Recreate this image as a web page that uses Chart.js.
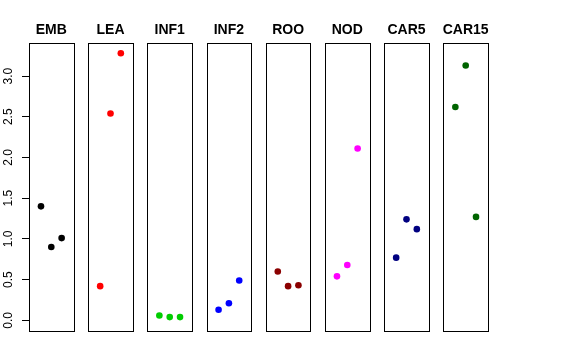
<!DOCTYPE html>
<html><head><meta charset="utf-8">
<script src="https://cdn.jsdelivr.net/npm/chart.js@4"></script>
<style>html,body{margin:0;padding:0;background:#fff}canvas{display:block}</style>
</head><body>
<div style="width:576px;height:360px"><canvas id="c" width="576" height="360"></canvas></div>
<script>
// ---- data ----
const panelNames = ['EMB','LEA','INF1','INF2','ROO','NOD','CAR5','CAR15'];
const panelColors = ['#000000','#FF0000','#00CD00','#0000FF','#8B0000','#FF00FF','#000080','#006400'];
const EMB   = [1.40, 0.90, 1.01];
const LEA   = [0.42, 2.54, 3.28];
const INF1  = [0.06, 0.04, 0.04];
const INF2  = [0.13, 0.21, 0.49];
const ROO   = [0.60, 0.42, 0.43];
const NOD   = [0.54, 0.68, 2.11];
const CAR5  = [0.77, 1.24, 1.12];
const CAR15 = [2.62, 3.13, 1.27];
const panelValues = [EMB, LEA, INF1, INF2, ROO, NOD, CAR5, CAR15];
const yTickValues = [0, 0.5, 1.0, 1.5, 2.0, 2.5, 3.0];
const yTickLabels = ['0.0','0.5','1.0','1.5','2.0','2.5','3.0'];

// ---- layout (in x-scale units) ----
const LOC_MIN = -0.16, LOC_MAX = 4.16;   // per-panel x range (points at 1,2,3)
const STEP = 5.733;                      // panel spacing
const X_MIN = LOC_MIN, X_MAX = (panelNames.length - 1) * STEP + LOC_MAX;

const datasets = panelValues.map((vals, k) => ({
  label: panelNames[k],
  data: vals.map((v, j) => ({ x: k * STEP + (j + 1), y: v })),
  backgroundColor: panelColors[k],
  borderColor: panelColors[k],
  pointRadius: 3.3,
  pointBorderWidth: 0,
  showLine: false
}));

const panelPlugin = {
  id: 'panels',
  beforeDatasetsDraw(chart) {
    const { ctx, chartArea, scales } = chart;
    ctx.save();
    ctx.strokeStyle = '#000';
    ctx.lineWidth = 1;
    panelNames.forEach((n, k) => {
      const l = Math.round(scales.x.getPixelForValue(k * STEP + LOC_MIN)) + 0.5;
      const r = Math.round(scales.x.getPixelForValue(k * STEP + LOC_MAX)) + 0.5;
      const t = Math.round(chartArea.top) + 0.5;
      const b = Math.round(chartArea.bottom) + 0.5;
      ctx.strokeRect(l, t, r - l, b - t);
    });
    ctx.restore();
  },
  afterDraw(chart) {
    const { ctx, scales } = chart;
    ctx.save();
    ctx.fillStyle = '#000';
    ctx.font = 'bold 14px "Liberation Sans", Arial, Helvetica, sans-serif';
    ctx.textAlign = 'center';
    ctx.textBaseline = 'alphabetic';
    panelNames.forEach((n, k) => {
      const cx = scales.x.getPixelForValue(k * STEP + (LOC_MIN + LOC_MAX) / 2);
      ctx.fillText(n, cx, 34);
    });
    ctx.restore();
  }
};

new Chart(document.getElementById('c'), {
  type: 'scatter',
  data: { datasets },
  options: {
    responsive: false,
    animation: false,
    devicePixelRatio: 1,
    layout: { padding: { left: 0, right: 88, top: 43, bottom: 29 } },
    plugins: { legend: { display: false }, tooltip: { enabled: false }, title: { display: false } },
    scales: {
      x: { type: 'linear', display: false, min: X_MIN, max: X_MAX },
      y: {
        type: 'linear', min: -0.131, max: 3.406,
        afterBuildTicks: s => { s.ticks = yTickValues.map(v => ({ value: v })); },
        afterFit: s => { s.width = 29; },
        border: { display: false },
        grid: { drawOnChartArea: false, drawTicks: true, tickLength: 7, color: '#000', tickColor: '#000' },
        ticks: {
          callback: (v) => { const i = yTickValues.indexOf(v); return i >= 0 ? yTickLabels[i] : ''; },
          minRotation: 90, maxRotation: 90, crossAlign: 'center', padding: 4.5,
          color: '#000',
          font: { family: '"Liberation Sans", Arial, Helvetica, sans-serif', size: 12 }
        }
      }
    }
  },
  plugins: [panelPlugin]
});
</script>
</body></html>
